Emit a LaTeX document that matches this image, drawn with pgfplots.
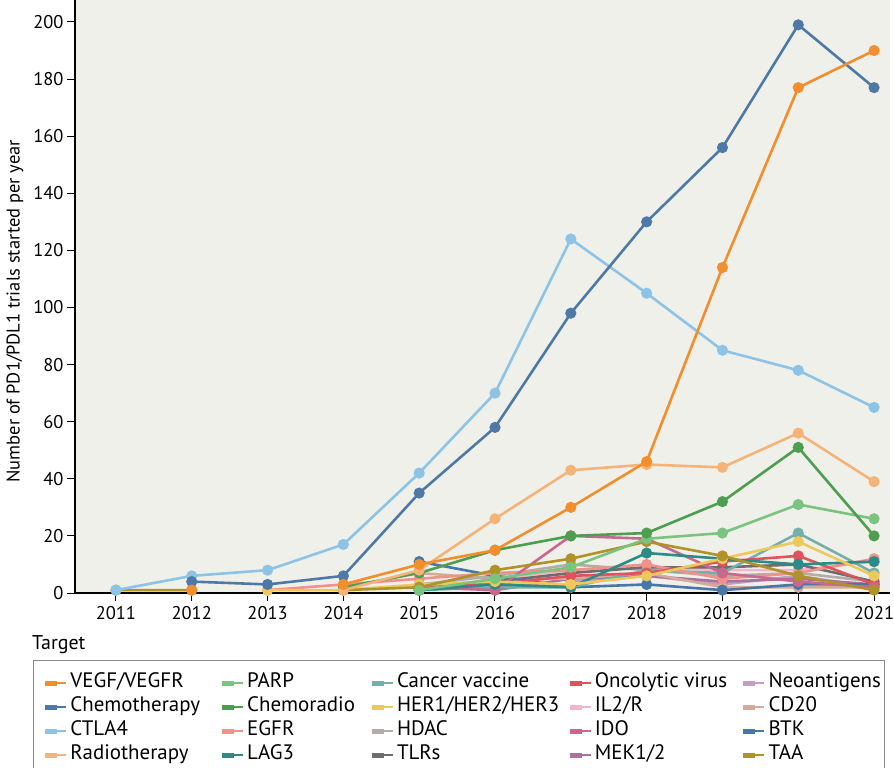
\documentclass[border=0pt]{standalone}
\usepackage{fontspec}
\setmainfont{PT Sans}
\usepackage{pgfplots}
\pgfplotsset{compat=1.18}
\definecolor{bgc}{HTML}{F0F0EB}
\definecolor{lgray}{HTML}{8A8A8A}
\definecolor{cvegf}{HTML}{F28E2B}
\definecolor{cchemo}{HTML}{4E79A7}
\definecolor{cctla}{HTML}{8CC3E6}
\definecolor{cradio}{HTML}{F5B377}
\definecolor{cparp}{HTML}{7BC47F}
\definecolor{ccrad}{HTML}{4E9E4F}
\definecolor{cegfr}{HTML}{F0928A}
\definecolor{clag}{HTML}{2B8B86}
\definecolor{cvacc}{HTML}{74AFAC}
\definecolor{cher}{HTML}{ECC95A}
\definecolor{chdac}{HTML}{B3ADA9}
\definecolor{ctlr}{HTML}{6D6D6D}
\definecolor{conco}{HTML}{E0525C}
\definecolor{cil}{HTML}{F3B6C8}
\definecolor{cido}{HTML}{C8688C}
\definecolor{cmek}{HTML}{A8719E}
\definecolor{cneo}{HTML}{C79DC4}
\definecolor{ccd}{HTML}{D4AA98}
\definecolor{cbtk}{HTML}{4876A6}
\definecolor{ctaa}{HTML}{B09229}
\newcommand{\legtxt}[2]{\makebox[#1][l]{\hspace*{3bp}#2}}
\begin{document}
\begin{tikzpicture}
\begin{axis}[
  at={(75bp,175bp)}, anchor=south west,
  scale only axis, width=815bp, height=593bp,
  xmin=2010.46, xmax=2021.21, ymin=0, ymax=207.7,
  clip mode=individual,
  axis x line*=bottom, axis y line*=left,
  axis line style={-, black, line width=1.2bp},
  axis background/.style={fill=bgc},
  xtick={2011,...,2021}, ytick={0,20,...,200},
  tick align=outside, major tick length=8bp,
  tick style={black, line width=1bp},
  /pgf/number format/1000 sep={},
  /pgf/number format/assume math mode=true,
  ticklabel style={font=\fontsize{18.5}{22}\selectfont},
  xticklabel style={yshift=-2bp},
  ylabel={Number of PD1/PDL1 trials started per year},
  ylabel style={font=\fontsize{18.5}{22}\selectfont, at={(axis description cs:-0.0736,0.475)}, anchor=center},
  unbounded coords=jump,
  every axis plot/.append style={line width=2.6bp, mark=*, mark size=4.2bp, mark options={solid}},
  legend columns=5,
  legend cell align=left,
  legend image code/.code={\draw[#1,line width=5bp,mark=none] (0bp,0bp) -- (12bp,0bp); \path (0bp,0bp) -- (21bp,0bp);},
  legend style={at={(axis description cs:-0.0515,-0.113)}, anchor=north west,
    draw=lgray, line width=1.2bp, fill=white,
    inner xsep=9bp, inner ysep=14bp, column sep=0pt, row sep=7bp,
    font=\fontsize{21}{24}\selectfont,
    nodes={inner sep=0pt, text height=13bp, text depth=4bp}},
]
% small series first
\addplot[color=cneo, forget plot] coordinates {(2017,4) (2018,6) (2019,3) (2020,6) (2021,2)};
\addplot[color=cmek, forget plot] coordinates {(2016,1) (2017,5) (2018,6) (2019,4) (2020,5) (2021,3)};
\addplot[color=ccd, forget plot] coordinates {(2015,7) (2016,5) (2017,5) (2018,7) (2019,2) (2020,2) (2021,2)};
\addplot[color=chdac, forget plot] coordinates {(2015,3) (2016,6) (2017,10) (2018,8) (2019,6) (2020,7) (2021,4)};
\addplot[color=cil, forget plot] coordinates {(2015,1) (2016,5) (2017,8) (2018,9) (2019,8) (2020,8) (2021,11)};
\addplot[color=ctlr, forget plot] coordinates {(2015,1) (2016,4) (2017,7) (2018,9) (2019,9) (2020,10) (2021,4)};
\addplot[color=cbtk, forget plot] coordinates {(2015,11) (2016,6) (2017,2) (2018,3) (2019,1) (2020,3) (2021,3)};
\addplot[color=cvacc, forget plot] coordinates {(2015,1) (2016,2) (2017,2) (2018,8) (2019,7) (2020,21) (2021,7)};
\addplot[color=cegfr, forget plot] coordinates {(2013,1) (2014,3) (2015,5) (2016,7) (2017,8) (2018,10) (2019,5) (2020,7) (2021,12)};
\addplot[color=conco, forget plot] coordinates {(2015,2) (2016,3) (2017,6) (2018,7) (2019,11) (2020,13) (2021,3)};
\addplot[color=cido, forget plot] coordinates {(2015,2) (2016,1) (2017,20) (2018,19) (2019,7) (2020,4) (2021,2)};
\addplot[color=clag, forget plot] coordinates {(2015,1) (2016,3) (2017,2) (2018,14) (2019,12) (2020,10) (2021,11)};
\addplot[color=cher, forget plot] coordinates {(2013,1) (2014,1) (2015,3) (2016,4) (2017,3) (2018,6) (2019,12) (2020,18) (2021,6)};
\addplot[color=ctaa, forget plot] coordinates {(2011,1) (2012,1) (2013,nan) (2014,1) (2015,2) (2016,8) (2017,12) (2018,18) (2019,13) (2020,6) (2021,1)};
\addplot[color=cparp, forget plot] coordinates {(2015,1) (2016,5) (2017,9) (2018,19) (2019,21) (2020,31) (2021,26)};
\addplot[color=ccrad, forget plot] coordinates {(2014,2) (2015,7) (2016,15) (2017,20) (2018,21) (2019,32) (2020,51) (2021,20)};
\addplot[color=cradio, forget plot] coordinates {(2014,1) (2015,8) (2016,26) (2017,43) (2018,45) (2019,44) (2020,56) (2021,39)};
\addplot[color=cctla, forget plot] coordinates {(2011,1) (2012,6) (2013,8) (2014,17) (2015,42) (2016,70) (2017,124) (2018,105) (2019,85) (2020,78) (2021,65)};
\addplot[color=cchemo, forget plot] coordinates {(2012,4) (2013,3) (2014,6) (2015,35) (2016,58) (2017,98) (2018,130) (2019,156) (2020,199) (2021,177)};
\addplot[color=cvegf, forget plot] coordinates {(2012,1) (2013,nan) (2014,3) (2015,10) (2016,15) (2017,30) (2018,46) (2019,114) (2020,177) (2021,190)};
% legend (row-wise)
\addlegendimage{color=cvegf}\addlegendentry{\legtxt{152bp}{VEGF/VEGFR}}
\addlegendimage{color=cparp}\addlegendentry{\legtxt{125bp}{PARP}}
\addlegendimage{color=cvacc}\addlegendentry{\legtxt{173bp}{Cancer vaccine}}
\addlegendimage{color=conco}\addlegendentry{\legtxt{149bp}{Oncolytic virus}}
\addlegendimage{color=cneo}\addlegendentry{\legtxt{110bp}{Neoantigens}}
\addlegendimage{color=cchemo}\addlegendentry{\legtxt{152bp}{Chemotherapy}}
\addlegendimage{color=ccrad}\addlegendentry{\legtxt{125bp}{Chemoradio}}
\addlegendimage{color=cher}\addlegendentry{\legtxt{173bp}{HER1/HER2/HER3}}
\addlegendimage{color=cil}\addlegendentry{\legtxt{149bp}{IL2/R}}
\addlegendimage{color=ccd}\addlegendentry{\legtxt{110bp}{CD20}}
\addlegendimage{color=cctla}\addlegendentry{\legtxt{152bp}{CTLA4}}
\addlegendimage{color=cegfr}\addlegendentry{\legtxt{125bp}{EGFR}}
\addlegendimage{color=chdac}\addlegendentry{\legtxt{173bp}{HDAC}}
\addlegendimage{color=cido}\addlegendentry{\legtxt{149bp}{IDO}}
\addlegendimage{color=cbtk}\addlegendentry{\legtxt{110bp}{BTK}}
\addlegendimage{color=cradio}\addlegendentry{\legtxt{152bp}{Radiotherapy}}
\addlegendimage{color=clag}\addlegendentry{\legtxt{125bp}{LAG3}}
\addlegendimage{color=ctlr}\addlegendentry{\legtxt{173bp}{TLRs}}
\addlegendimage{color=cmek}\addlegendentry{\legtxt{149bp}{MEK1/2}}
\addlegendimage{color=ctaa}\addlegendentry{\legtxt{110bp}{TAA}}
\node[anchor=base west, font=\fontsize{20}{24}\selectfont, inner sep=0pt] at (axis description cs:-0.0528,-0.0961) {Target};
\end{axis}
\pgfresetboundingbox
\path[use as bounding box] (0bp,0bp) rectangle (894bp,768bp);
\end{tikzpicture}
\end{document}
